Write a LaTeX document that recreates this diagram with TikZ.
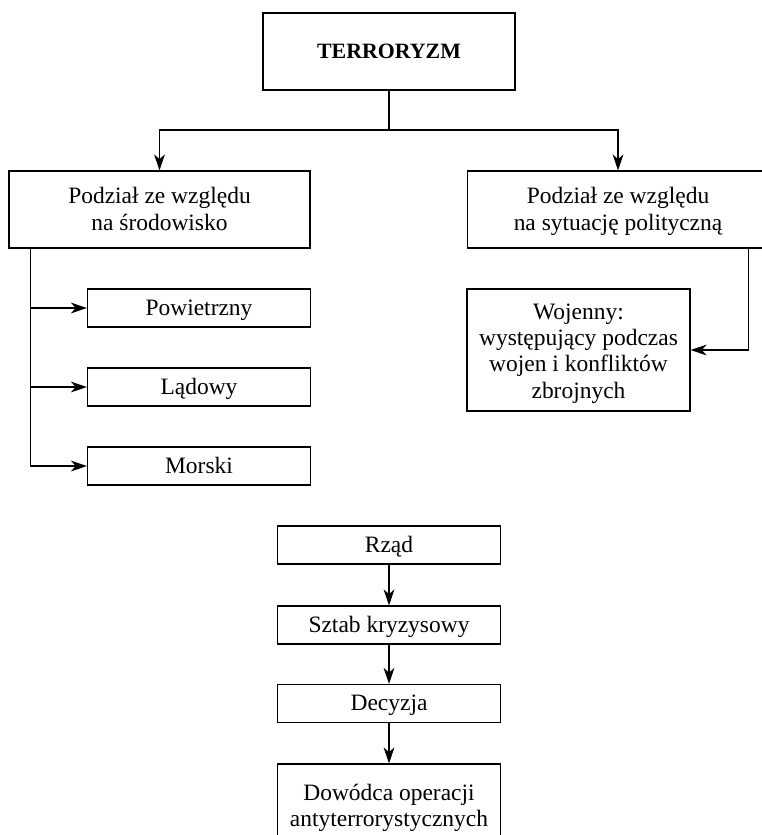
\documentclass[tikz,border=0pt]{standalone}
\usepackage{fontspec}
\setmainfont{Liberation Serif}
\usetikzlibrary{arrows.meta}

\tikzset{
	box/.style={draw, line width=0.8pt, align=center, inner sep=2pt,
		font=\fontsize{17.6}{19.75}\selectfont},
	wide/.style={box, minimum width=301*0.75pt, minimum height=77*0.75pt,
		text height=30.75pt, text depth=0pt},
	small/.style={box, minimum width=223*0.75pt, minimum height=38*0.75pt,
		text height=10.5pt, text depth=0pt},
	arr/.style={line width=0.8pt, -{Stealth[length=12pt, width=8pt, inset=3.5pt]}},
	link/.style={line width=0.8pt}
}

\begin{document}
\begin{tikzpicture}[x=0.75pt, y=-0.75pt]
	\useasboundingbox (0,0) rectangle (762,835);
	% upper tree
	\node [box, minimum width=252*0.75pt, minimum height=77*0.75pt,
		text height=11pt, text depth=0pt,
		font=\fontsize{16.4}{20}\selectfont\bfseries] (terror) at (389,51.5) {TERRORYZM};
	\node [wide] (envir) at (159.5,209.5) {Podział ze względu\\na środowisko};
	\node [wide] (polit) at (618,209.5) {Podział ze względu\\na sytuację polityczną};
	\node [small] (air) at (199,308) {Powietrzny};
	\node [small] (land) at (199,387) {Lądowy};
	\node [small] (sea) at (199,466) {Morski};
	\node [box, minimum width=223*0.75pt, minimum height=122*0.75pt,
		text height=72pt, text depth=0pt] (war) at (578.5,350)
		{Wojenny:\\występujący podczas\\wojen i konfliktów\\zbrojnych};
	\coordinate (split) at (389,130);
	\draw [link] (terror) -- (split);
	\draw [arr] (split) -| (envir.north);
	\draw [arr] (split) -| (polit.north);
	\path (envir.south west) ++(22,0) coordinate (trunk);
	\foreach \n in {air,land,sea}
		\draw [arr] (trunk) |- (\n.west);
	\path (polit.south east) ++(-21,0) coordinate (rtrunk);
	\draw [arr] (rtrunk) |- (war.east);
	% lower chain
	\node [small] (gov) at (389,545) {Rząd};
	\node [small] (staff) at (389,625) {Sztab kryzysowy};
	\node [small] (decision) at (389,703.5) {Decyzja};
	\node [box, minimum width=223*0.75pt, minimum height=77*0.75pt,
		text height=36.3pt, text depth=0pt] (chief) at (389,802.5)
		{Dowódca operacji\\antyterrorystycznych};
	\draw [arr] (gov) -- (staff);
	\draw [arr] (staff) -- (decision);
	\draw [arr] (decision) -- (chief);
\end{tikzpicture}
\end{document}
